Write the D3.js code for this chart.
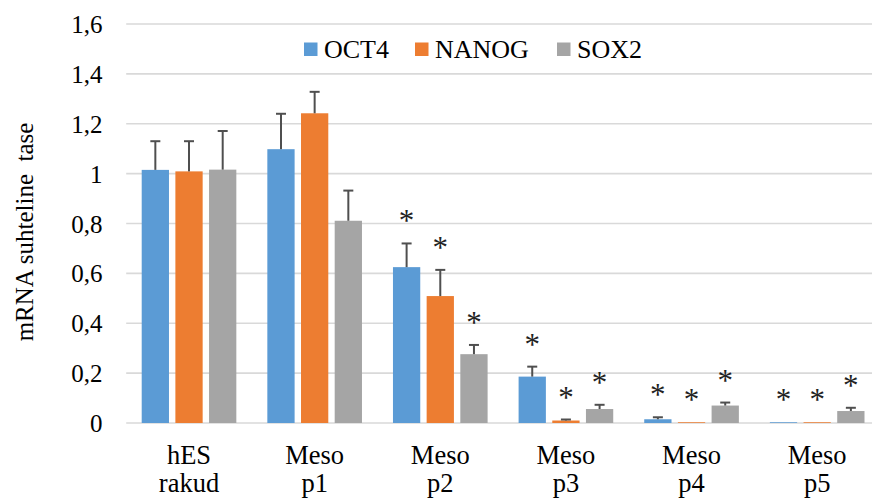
<!DOCTYPE html>
<html>
<head>
<meta charset="utf-8">
<script src="https://cdn.jsdelivr.net/npm/d3@7"></script>
<style>
  html, body { margin: 0; padding: 0; background: #fff; }
  svg { display: block; }
</style>
</head>
<body>
<svg id="chart" width="872" height="501"></svg>
<script>
// Sample groups (two-line axis labels)
const categories = ["hES rakud", "Meso p1", "Meso p2", "Meso p3", "Meso p4", "Meso p5"];
const categoryLines = [["hES", "rakud"], ["Meso", "p1"], ["Meso", "p2"], ["Meso", "p3"], ["Meso", "p4"], ["Meso", "p5"]];

// Genes
const series = ["OCT4", "NANOG", "SOX2"];
const colors = ["#5B9BD5", "#ED7D31", "#A5A5A5"];

// Relative mRNA level per gene, one value per group
const oct4Values  = [1.015, 1.098, 0.625, 0.186, 0.015, 0.003];
const nanogValues = [1.009, 1.242, 0.509, 0.010, 0.003, 0.003];
const sox2Values  = [1.016, 0.811, 0.276, 0.056, 0.070, 0.048];

// Standard deviation (upper error bar)
const oct4Err  = [0.115, 0.142, 0.095, 0.040, 0.008, 0.000];
const nanogErr = [0.121, 0.086, 0.105, 0.004, 0.000, 0.000];
const sox2Err  = [0.155, 0.121, 0.037, 0.017, 0.012, 0.013];

// Significance markers (true = "*")
const oct4Sig  = [false, false, true, true, true, true];
const nanogSig = [false, false, true, true, true, true];
const sox2Sig  = [false, false, true, true, true, true];

// Y axis
const yTicks = [0, 0.2, 0.4, 0.6, 0.8, 1, 1.2, 1.4, 1.6];
const yTickLabels = ["0", "0,2", "0,4", "0,6", "0,8", "1", "1,2", "1,4", "1,6"];
const yTitle = "mRNA suhteline\u00A0\u00A0tase";

const SERIF = "'Liberation Serif', 'Times New Roman', serif";

const valueTable = [oct4Values, nanogValues, sox2Values];
const errTable = [oct4Err, nanogErr, sox2Err];
const sigTable = [oct4Sig, nanogSig, sox2Sig];

const svg = d3.select("#chart");

const plot = { left: 126.2, right: 880, top: 24, bottom: 423 };

const x0 = d3.scaleBand()
  .domain(categories)
  .range([plot.left, plot.right])
  .padding(0);

const x1 = d3.scaleBand()
  .domain(series)
  .range([15.5, x0.bandwidth() - 15.5])
  .paddingInner(0.19)
  .paddingOuter(0);

const y = d3.scaleLinear()
  .domain([0, 1.6])
  .range([plot.bottom, plot.top]);

// Gridlines
svg.append("g")
  .selectAll("line")
  .data(yTicks)
  .join("line")
  .attr("x1", plot.left)
  .attr("x2", plot.right)
  .attr("y1", d => y(d))
  .attr("y2", d => y(d))
  .attr("stroke", "#D9D9D9")
  .attr("stroke-width", 1.6);

// Y tick labels
const yAxis = d3.axisLeft(y)
  .tickValues(yTicks)
  .tickFormat((d, i) => yTickLabels[i])
  .tickSize(0)
  .tickPadding(0);

const yAxisG = svg.append("g")
  .attr("transform", `translate(${102.5},0)`)
  .call(yAxis);
yAxisG.select(".domain").remove();
yAxisG.selectAll("text")
  .style("font-family", SERIF)
  .style("font-size", "25px")
  .attr("fill", "#000")
  .attr("dy", "0.34em");

// Y title
svg.append("text")
  .attr("transform", `translate(33,${232}) rotate(-90)`)
  .attr("text-anchor", "middle")
  .style("font-family", SERIF)
  .style("font-size", "25px")
  .attr("fill", "#000")
  .text(yTitle);

// Bars
const rows = [];
categories.forEach((c, ci) => {
  series.forEach((s, si) => {
    rows.push({
      cat: c, ser: s, si,
      value: valueTable[si][ci],
      err: errTable[si][ci],
      sig: sigTable[si][ci]
    });
  });
});

const cx = d => x0(d.cat) + x1(d.ser) + x1.bandwidth() / 2;

svg.append("g")
  .selectAll("rect")
  .data(rows)
  .join("rect")
  .attr("x", d => x0(d.cat) + x1(d.ser))
  .attr("width", x1.bandwidth())
  .attr("y", d => y(d.value))
  .attr("height", d => y(0) - y(d.value))
  .attr("fill", d => colors[d.si]);

// Error bars
const errRows = rows.filter(d => d.err > 0);
const errG = svg.append("g")
  .attr("stroke", "#4f4f4f")
  .attr("stroke-width", 2)
  .attr("fill", "none");

errG.selectAll("line.stem")
  .data(errRows)
  .join("line")
  .attr("class", "stem")
  .attr("x1", cx)
  .attr("x2", cx)
  .attr("y1", d => y(d.value))
  .attr("y2", d => y(d.value + d.err));

errG.selectAll("line.cap")
  .data(errRows)
  .join("line")
  .attr("class", "cap")
  .attr("x1", d => cx(d) - 5)
  .attr("x2", d => cx(d) + 5)
  .attr("y1", d => y(d.value + d.err))
  .attr("y2", d => y(d.value + d.err));

// Significance asterisks
svg.append("g")
  .selectAll("text")
  .data(rows.filter(d => d.sig))
  .join("text")
  .attr("x", cx)
  .attr("y", d => y(d.value + d.err) - 12)
  .attr("text-anchor", "middle")
  .style("font-family", SERIF)
  .style("font-size", "31px")
  .attr("fill", "#222")
  .text("*");

// Category labels
const xLab = svg.append("g")
  .selectAll("text")
  .data(categories)
  .join("text")
  .attr("x", d => x0(d) + x0.bandwidth() / 2)
  .attr("y", 464)
  .attr("text-anchor", "middle")
  .style("font-family", SERIF)
  .style("font-size", "26.5px")
  .attr("fill", "#000");

xLab.each(function(d, i) {
  const t = d3.select(this);
  categoryLines[i].forEach((line, li) => {
    t.append("tspan")
      .attr("x", x0(d) + x0.bandwidth() / 2)
      .attr("dy", li === 0 ? 0 : 28)
      .text(line);
  });
});

// Legend
const legendX = [304, 415, 557];
const legend = svg.append("g");
series.forEach((s, i) => {
  legend.append("rect")
    .attr("x", legendX[i])
    .attr("y", 42.5)
    .attr("width", 13.5)
    .attr("height", 13.5)
    .attr("fill", colors[i]);
  legend.append("text")
    .attr("x", legendX[i] + 20)
    .attr("y", 58)
    .style("font-family", SERIF)
    .style("font-size", "26px")
    .attr("fill", "#000")
    .text(s);
});
</script>
</body>
</html>
